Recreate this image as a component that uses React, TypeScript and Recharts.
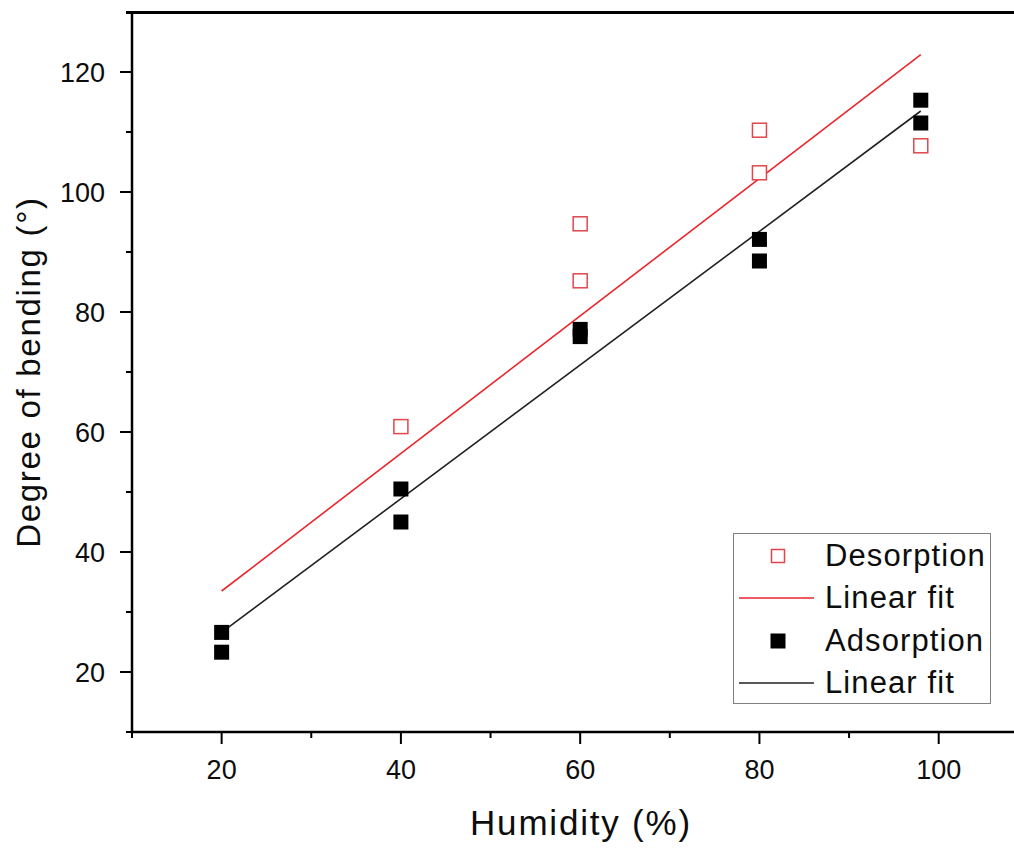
import { ComposedChart, Scatter, Line, XAxis, YAxis, Legend, Label } from "recharts";

const FONT = '"Liberation Sans", Arial, Helvetica, sans-serif';

// humidity (%) and degree of bending (°)
const desorptionX = [40, 60, 60, 80, 80, 98];
const desorptionY = [60.9, 94.7, 85.2, 110.3, 103.2, 107.7];
const adsorptionX = [20, 20, 40, 40, 60, 60, 80, 80, 98, 98];
const adsorptionY = [26.6, 23.3, 50.5, 45.0, 77.1, 75.9, 92.1, 88.5, 115.3, 111.5];

// end points of the two linear fits
const fitX = [20, 98];
const desorptionFitY = [33.5, 122.9];
const adsorptionFitY = [26.6, 113.5];

// axis ranges and ticks
const humidityDomain = [10, 108.4];
const bendingDomain = [10, 130];
const humidityTicks = [10, 20, 30, 40, 50, 60, 70, 80, 90, 100];
const bendingTicks = [10, 20, 30, 40, 50, 60, 70, 80, 90, 100, 110, 120, 130];

const legendItems = [
  { label: "Desorption", kind: "open" },
  { label: "Linear fit", kind: "redLine" },
  { label: "Adsorption", kind: "filled" },
  { label: "Linear fit", kind: "blackLine" },
];

const toPoints = (xs: number[], ys: number[]) => xs.map((x, i) => ({ x, y: ys[i] }));

const RED_LINE = "#e8262c";
const RED_MARK = "#e0474d";
const TEXT = "#0d0d0d";

function HumidityTick({ x, y, payload }: any) {
  const major = payload.value % 20 === 0;
  return (
    <g>
      <line x1={x} x2={x} y1={y} y2={y + (major ? 12 : 6)} stroke="#000" strokeWidth={2} />
      {major && (
        <text x={x} y={y + 47} textAnchor="middle" fontSize={27} fontFamily={FONT} fill={TEXT}>
          {payload.value}
        </text>
      )}
    </g>
  );
}

function BendingTick({ x, y, payload }: any) {
  const major = payload.value % 20 === 0;
  return (
    <g>
      <line x1={x} x2={x - (major ? 12 : 6)} y1={y} y2={y} stroke="#000" strokeWidth={2} />
      {major && (
        <text x={x - 27} y={y + 10} textAnchor="end" fontSize={27} fontFamily={FONT} fill={TEXT}>
          {payload.value}
        </text>
      )}
    </g>
  );
}

const FilledSquare = ({ cx, cy }: any) => (
  <rect x={cx - 7.5} y={cy - 7.5} width={15} height={15} fill="#000" />
);

const OpenSquare = ({ cx, cy }: any) => (
  <rect x={cx - 7} y={cy - 7} width={14} height={14} fill="#fff" stroke={RED_MARK} strokeWidth={1.5} />
);

function LegendIcon({ kind }: { kind: string }) {
  return (
    <svg width={91} height={42} style={{ display: "block" }}>
      {kind === "open" && (
        <rect x={37.5} y={14.5} width={13} height={13} fill="none" stroke={RED_MARK} strokeWidth={1.5} />
      )}
      {kind === "filled" && <rect x={36.5} y={13.5} width={15} height={15} fill="#000" />}
      {kind === "redLine" && <line x1={5} x2={80} y1={21} y2={21} stroke={RED_LINE} strokeWidth={1.6} />}
      {kind === "blackLine" && <line x1={5} x2={80} y1={21} y2={21} stroke="#222" strokeWidth={1.6} />}
    </svg>
  );
}

function FitLegend() {
  return (
    <div
      style={{
        width: 258,
        height: 171,
        boxSizing: "border-box",
        border: "1px solid #808080",
        background: "#fff",
        paddingTop: 1,
      }}
    >
      {legendItems.map((item, i) => (
        <div key={i} style={{ display: "flex", alignItems: "center", height: 42.3 }}>
          <LegendIcon kind={item.kind} />
          <span
            style={{
              fontFamily: FONT,
              fontSize: 31,
              letterSpacing: 1.1,
              color: TEXT,
              lineHeight: "42px",
            }}
          >
            {item.label}
          </span>
        </div>
      ))}
    </div>
  );
}

export default function App() {
  return (
    <div style={{ position: "absolute", left: 0, top: 0, width: 1014, height: 850, background: "#fff" }}>
      <ComposedChart width={1014} height={850} margin={{ top: 12, right: 0, bottom: 0, left: 0 }}>
        <XAxis
          dataKey="x"
          type="number"
          domain={humidityDomain}
          ticks={humidityTicks}
          interval={0}
          height={118}
          tickSize={0}
          tickMargin={0}
          tickLine={false}
          axisLine={{ stroke: "#000", strokeWidth: 2.5 }}
          tick={<HumidityTick />}
        >
          <Label
            content={({ viewBox }: any) => (
              <text
                x={viewBox.x + viewBox.width / 2 + 8}
                y={835}
                textAnchor="middle"
                fontSize={35}
                letterSpacing={1.8}
                fontFamily={FONT}
                fill={TEXT}
              >
                Humidity (%)
              </text>
            )}
          />
        </XAxis>
        <YAxis
          type="number"
          domain={bendingDomain}
          ticks={bendingTicks}
          interval={0}
          width={132}
          tickSize={0}
          tickMargin={0}
          tickLine={false}
          axisLine={{ stroke: "#000", strokeWidth: 2.5 }}
          tick={<BendingTick />}
        >
          <Label
            content={({ viewBox }: any) => {
              const cx = viewBox.x + 40;
              const cy = viewBox.y + viewBox.height / 2;
              return (
                <text
                  x={cx}
                  y={cy}
                  transform={`rotate(-90, ${cx}, ${cy})`}
                  textAnchor="middle"
                  fontSize={33}
                  letterSpacing={1.7}
                  fontFamily={FONT}
                  fill={TEXT}
                >
                  Degree of bending (°)
                </text>
              );
            }}
          />
        </YAxis>
        <Scatter
          name="Desorption"
          data={toPoints(desorptionX, desorptionY)}
          dataKey="y"
          shape={<OpenSquare />}
          isAnimationActive={false}
        />
        <Line
          name="Linear fit"
          data={toPoints(fitX, desorptionFitY)}
          dataKey="y"
          stroke={RED_LINE}
          strokeWidth={1.6}
          dot={false}
          activeDot={false}
          isAnimationActive={false}
        />
        <Scatter
          name="Adsorption"
          data={toPoints(adsorptionX, adsorptionY)}
          dataKey="y"
          shape={<FilledSquare />}
          isAnimationActive={false}
        />
        <Line
          name="Linear fit"
          data={toPoints(fitX, adsorptionFitY)}
          dataKey="y"
          stroke="#222"
          strokeWidth={1.6}
          dot={false}
          activeDot={false}
          isAnimationActive={false}
        />
        <Legend
          layout="vertical"
          align="center"
          verticalAlign="middle"
          content={<FitLegend />}
          wrapperStyle={{ left: 733, top: 533, width: 258, height: 171 }}
        />
      </ComposedChart>
      {/* top edge of the plot frame */}
      <div
        style={{
          position: "absolute",
          left: 126,
          top: 11,
          width: 1014 - 126,
          height: 2.5,
          background: "#000",
        }}
      />
    </div>
  );
}
